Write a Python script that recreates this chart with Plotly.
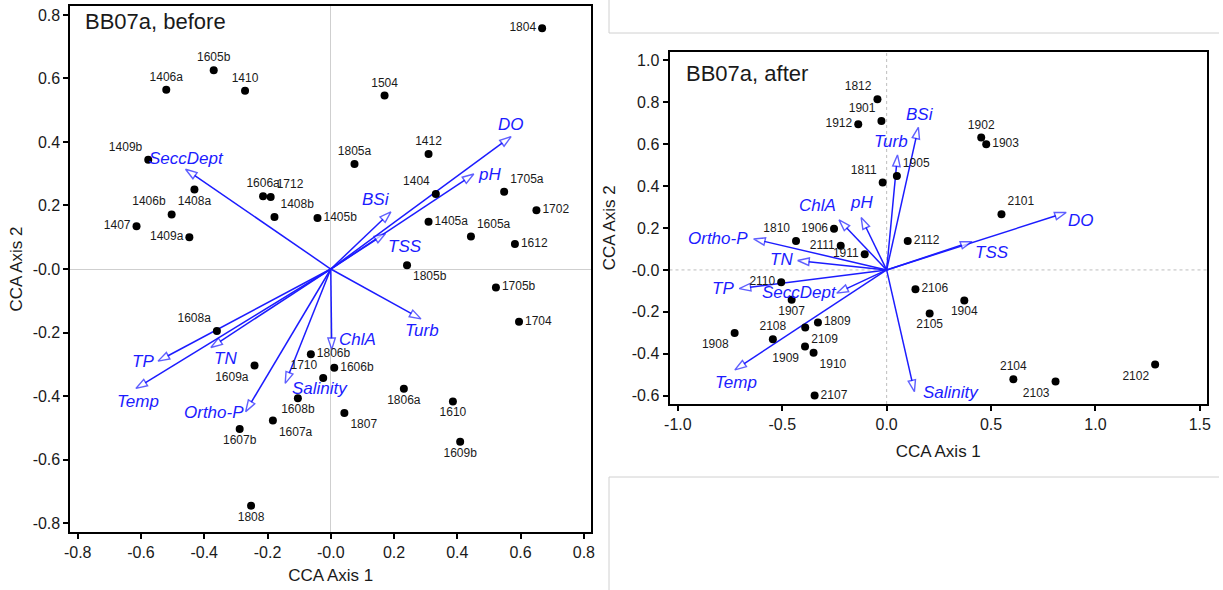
import plotly.graph_objects as go

# ---------------- BB07a, before ----------------
before_sites = ["1804", "1605b", "1406a", "1410", "1504", "1409b", "1412", "1805a",
                "1404", "1705a", "1606a", "1712", "1408a", "1408b", "1406b", "1405b",
                "1702", "1407", "1405a", "1409a", "1605a", "1612", "1805b", "1705b",
                "1608a", "1704", "1806b", "1609a", "1606b", "1710", "1806a", "1608b",
                "1610", "1807", "1607a", "1607b", "1609b", "1808"]
before_ax1 = [0.668, -0.370, -0.520, -0.271, 0.170, -0.577, 0.309, 0.075,
              0.332, 0.548, -0.214, -0.190, -0.431, -0.178, -0.503, -0.042,
              0.650, -0.614, 0.309, -0.447, 0.443, 0.582, 0.241, 0.522,
              -0.360, 0.595, -0.063, -0.241, 0.011, -0.024, 0.231, -0.104,
              0.386, 0.043, -0.183, -0.288, 0.409, -0.252]
before_ax2 = [0.758, 0.626, 0.564, 0.561, 0.546, 0.344, 0.362, 0.331,
              0.236, 0.243, 0.229, 0.227, 0.250, 0.164, 0.172, 0.161,
              0.185, 0.135, 0.149, 0.100, 0.102, 0.079, 0.012, -0.058,
              -0.195, -0.166, -0.268, -0.304, -0.311, -0.343, -0.377, -0.407,
              -0.417, -0.453, -0.477, -0.504, -0.544, -0.745]

before_vars = ["DO", "pH", "BSi", "TSS", "SeccDept", "Turb", "ChlA", "Salinity",
               "Ortho-P", "TN", "TP", "Temp"]
before_v1 = [0.570, 0.452, 0.190, 0.173, -0.459, 0.285, 0.003, -0.144,
             -0.269, -0.379, -0.546, -0.616]
before_v2 = [0.417, 0.299, 0.180, 0.112, 0.314, -0.157, -0.253, -0.360,
             -0.449, -0.247, -0.290, -0.376]

# ---------------- BB07a, after ----------------
after_sites = ["1812", "1901", "1912", "1811", "1905", "1906", "1810", "2111",
               "1911", "2112", "1902", "1903", "2101", "2110", "1907", "1908",
               "2108", "1809", "2109", "1909", "1910", "2107", "2106", "1904",
               "2105", "2104", "2103", "2102"]
after_ax1 = [-0.044, -0.025, -0.136, -0.019, 0.049, -0.252, -0.434, -0.220,
             -0.105, 0.101, 0.453, 0.477, 0.550, -0.505, -0.455, -0.728,
             -0.545, -0.329, -0.390, -0.391, -0.350, -0.345, 0.138, 0.372,
             0.206, 0.607, 0.809, 1.286]
after_ax2 = [0.815, 0.711, 0.695, 0.417, 0.449, 0.196, 0.138, 0.115,
             0.075, 0.138, 0.632, 0.600, 0.266, -0.059, -0.143, -0.301,
             -0.331, -0.251, -0.275, -0.366, -0.395, -0.600, -0.092, -0.146,
             -0.208, -0.522, -0.533, -0.452]

after_vars = ["BSi", "Turb", "DO", "TSS", "ChlA", "pH", "Ortho-P", "TN", "TP",
              "SeccDept", "Temp", "Salinity"]
after_v1 = [0.152, 0.052, 0.860, 0.409, -0.228, -0.122, -0.637, -0.426, -0.706,
            -0.239, -0.727, 0.133]
after_v2 = [0.681, 0.549, 0.274, 0.135, 0.239, 0.250, 0.148, 0.045, -0.089,
            -0.111, -0.477, -0.581]

# Tick labels
before_ticks = [-0.8, -0.6, -0.4, -0.2, 0.0, 0.2, 0.4, 0.6, 0.8]
before_ticktext = ["-0.8", "-0.6", "-0.4", "-0.2", "-0.0", "0.2", "0.4", "0.6", "0.8"]
after_xticks = [-1.0, -0.5, 0.0, 0.5, 1.0, 1.5]
after_xticktext = ["-1.0", "-0.5", "0.0", "0.5", "1.0", "1.5"]
after_yticks = [-0.6, -0.4, -0.2, 0.0, 0.2, 0.4, 0.6, 0.8, 1.0]
after_yticktext = ["-0.6", "-0.4", "-0.2", "-0.0", "0.2", "0.4", "0.6", "0.8", "1.0"]

# Label placement (styling)
before_site_pos = ["middle left", "top center", "top center", "top center", "top center",
                   "top left", "top center", "top center", "top left", "top right",
                   "top center", "top right", "bottom center", "top right", "top left",
                   "middle right", "middle right", "middle left", "middle right",
                   "middle left", "top right", "middle right", "bottom right",
                   "middle right", "top left", "middle right", "middle right",
                   "bottom left", "middle right", "top left", "bottom center",
                   "bottom center", "bottom center", "bottom right", "bottom right",
                   "bottom center", "bottom center", "bottom center"]
# pixel offsets of each vector label's centre from its arrow tip (right, down)
before_var_off = [(0, -12), (16, 0), (-15, -12), (19, 13), (1, -11), (1, 12),
                  (26, -10), (35, 5), (-32, 1), (15, 11), (-15, 0), (2, 13)]
after_site_pos = ["top left", "top left", "middle left", "top left", "top right",
                  "middle left", "top left", "middle left", "middle left", "middle right",
                  "top center", "middle right", "top right", "middle left", "bottom center",
                  "bottom left", "top center", "middle right", "bottom right",
                  "bottom left", "bottom right", "middle right", "middle right",
                  "bottom center", "bottom center", "top center", "bottom left",
                  "bottom left"]
after_var_off = [(2, -13), (-6, -13), (15, 8), (20, 11), (-22, -14), (0, -15),
                 (-36, 0), (-16, -1), (-16, 0), (-37, -1), (1, 13), (37, 1)]

BLUE = "#1c1cff"
INK = "#1a1a1a"
FONT = "Liberation Sans, Arial, sans-serif"

fig = go.Figure()


def add_panel(xa, ya, sites, ax1, ax2, site_pos, vars_, v1, v2, var_off):
    # environmental vectors drawn from the origin
    for name, vx, vy, (dx, dy) in zip(vars_, v1, v2, var_off):
        fig.add_trace(go.Scatter(
            x=[0, vx], y=[0, vy], xaxis=xa, yaxis=ya, mode="lines+markers",
            line=dict(color=BLUE, width=1.5),
            marker=dict(symbol=["circle", "arrow"], size=[0, 12],
                        angleref="previous", color="white",
                        line=dict(color=BLUE, width=1.4)),
            hoverinfo="skip", showlegend=False))
        fig.add_annotation(
            x=vx, y=vy, xref=xa, yref=ya, text=name, showarrow=False,
            xanchor="center", yanchor="middle", xshift=dx, yshift=-dy,
            font=dict(family=FONT, size=17, color=BLUE, style="italic"))
    # sample sites
    fig.add_trace(go.Scatter(
        x=ax1, y=ax2, xaxis=xa, yaxis=ya, mode="markers+text", text=sites,
        textposition=site_pos,
        marker=dict(color="black", size=8),
        textfont=dict(family=FONT, size=12, color=INK),
        showlegend=False))


add_panel("x", "y", before_sites, before_ax1, before_ax2, before_site_pos,
          before_vars, before_v1, before_v2, before_var_off)
add_panel("x2", "y2", after_sites, after_ax1, after_ax2, after_site_pos,
          after_vars, after_v1, after_v2, after_var_off)

axis_common = dict(showline=True, linecolor="black", linewidth=2, mirror=True,
                   ticks="outside", ticklen=5, tickwidth=1.5, tickcolor="black",
                   showgrid=False, tickfont=dict(family=FONT, size=16, color=INK),
                   title_font=dict(family=FONT, size=17, color=INK))

fig.update_layout(
    width=1223, height=590, autosize=False,
    margin=dict(l=0, r=0, t=0, b=0),
    paper_bgcolor="white", plot_bgcolor="white",
    xaxis=dict(domain=[0.0531, 0.4824], range=[-0.823, 0.823],
               tickvals=before_ticks, ticktext=before_ticktext,
               zeroline=True, zerolinecolor="#cfcfcf", zerolinewidth=1,
               title=dict(text="CCA Axis 1", standoff=9), **axis_common),
    yaxis=dict(domain=[0.0983, 0.9898], range=[-0.828, 0.828],
               tickvals=before_ticks, ticktext=before_ticktext,
               zeroline=True, zerolinecolor="#cfcfcf", zerolinewidth=1,
               title=dict(text="CCA Axis 2", standoff=6), **axis_common),
    xaxis2=dict(domain=[0.547, 0.9902], range=[-1.04, 1.535], anchor="y2",
                tickvals=after_xticks, ticktext=after_xticktext, zeroline=False,
                title=dict(text="CCA Axis 1", standoff=13), **axis_common),
    yaxis2=dict(domain=[0.3153, 0.9124], range=[-0.64, 1.042], anchor="x2",
                tickvals=after_yticks, ticktext=after_yticktext, zeroline=False,
                title=dict(text="CCA Axis 2", standoff=12), **axis_common),
)

# dotted zero reference lines in the "after" panel
fig.add_shape(type="line", xref="x2", yref="y2 domain", x0=0, x1=0, y0=0, y1=1,
              line=dict(color="#bdbdbd", width=1, dash="dot"), layer="below")
fig.add_shape(type="line", xref="x2 domain", yref="y2", x0=0, x1=1, y0=0, y1=0,
              line=dict(color="#bdbdbd", width=1, dash="dot"), layer="below")

# page frame rules around the right-hand panel
for x0, y0, x1, y1 in [(608, 590, 608, 557), (608, 557, 1223, 557),
                       (608, 0, 608, 113), (608, 113, 1223, 113)]:
    fig.add_shape(type="line", xref="paper", yref="paper",
                  x0=x0 / 1223, x1=x1 / 1223, y0=y0 / 590, y1=y1 / 590,
                  line=dict(color="#d0d0d0", width=1))

fig.add_annotation(text="BB07a, before", xref="paper", yref="paper",
                   x=78 / 1223, y=1 - 22 / 590, xanchor="left", yanchor="middle",
                   showarrow=False, font=dict(family=FONT, size=22, color=INK))
fig.add_annotation(text="BB07a, after", xref="paper", yref="paper",
                   x=684 / 1223, y=1 - 73 / 590, xanchor="left", yanchor="middle",
                   showarrow=False, font=dict(family=FONT, size=22, color=INK))

fig.write_html("out.html")
